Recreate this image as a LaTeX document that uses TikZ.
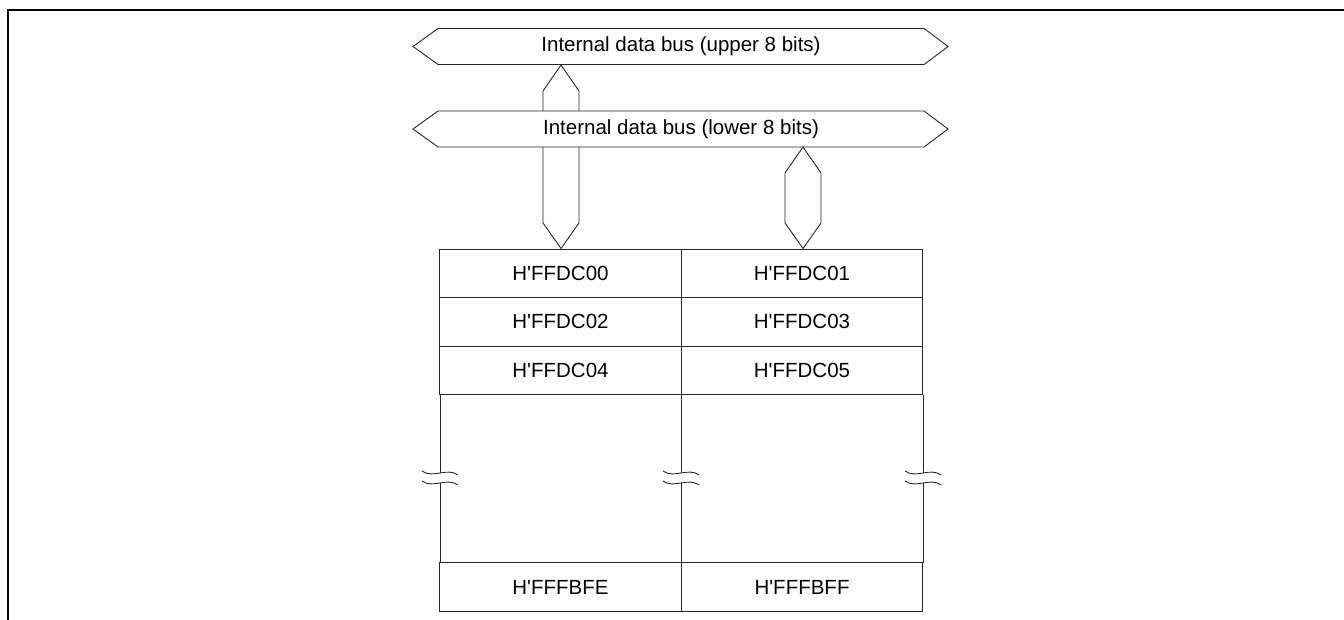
\documentclass[tikz,border=0pt]{standalone}
\usepackage{fontspec}
\setmainfont{Liberation Sans}[Ligatures=TeXOff]
\begin{document}
\begin{tikzpicture}[x=1pt,y=-1pt,line join=miter,
  busline/.style={draw=black!85,line width=0.9pt,fill=white},
  lbl/.style={font=\fontsize{20.5}{24}\selectfont,inner sep=0pt,text=black},
  cell/.style={draw=black!85,line width=0.9pt,minimum width=241.5pt,minimum height=48.5pt,inner sep=0pt,font=\fontsize{20.5}{24}\selectfont},
  gridline/.style={draw=black!85,line width=0.9pt},
  wave/.style={draw=black!85,line width=0.9pt}]
\useasboundingbox (0,0) rectangle (1344,620);
% frame
\draw[line width=1.5pt] (8,620) -- (8,10) -- (1344,10);
% vertical bus between upper and lower bus, down to table
\draw[busline] (561,65) -- (579,91) -- (579,223) -- (561,248.5) -- (543,223) -- (543,91) -- cycle;
% upper bus
\draw[busline] (413,46.5) -- (438,28.5) -- (924,28.5) -- (948,46.5) -- (924,64.5) -- (438,64.5) -- cycle;
\node[lbl] (ub) at (681,46.5) {Internal data bus (upper 8 bits)};
% lower bus
\draw[busline] (413,129) -- (438,111) -- (924,111) -- (948,129) -- (924,147) -- (438,147) -- cycle;
\node[lbl] (lb) at (681,129) {Internal data bus (lower 8 bits)};
% right vertical bus
\draw[busline] (803,147) -- (821,173) -- (821,223) -- (803,248.5) -- (785,223) -- (785,173) -- cycle;
% table cells
\node[cell] (c00) at (560.5,273.25) {H'FFDC00};
\node[cell] (c01) at (802,273.25) {H'FFDC01};
\node[cell] (c02) at (560.5,321.75) {H'FFDC02};
\node[cell] (c03) at (802,321.75) {H'FFDC03};
\node[cell] (c04) at (560.5,370.25) {H'FFDC04};
\node[cell] (c05) at (802,370.25) {H'FFDC05};
\node[cell] (cfe) at (560.5,587) {H'FFFBFE};
\node[cell] (cff) at (802,587) {H'FFFBFF};
% middle region with break marks
\foreach \x/\n in {440/a,681/b,923/c}{
  \coordinate (t\n) at (\x,394.5);
  \coordinate (u\n) at (\x,473);
  \coordinate (l\n) at (\x,483);
  \coordinate (b\n) at (\x,563);
  \draw[gridline] (t\n) -- (u\n);
  \draw[gridline] (l\n) -- (b\n);
  \draw[wave] ([xshift=-18pt,yshift=2pt]u\n) .. controls ([xshift=-7pt,yshift=-6pt]u\n) and ([xshift=7pt,yshift=6pt]u\n) .. ([xshift=18pt,yshift=-2pt]u\n);
  \draw[wave] ([xshift=-18pt,yshift=2pt]l\n) .. controls ([xshift=-7pt,yshift=-6pt]l\n) and ([xshift=7pt,yshift=6pt]l\n) .. ([xshift=18pt,yshift=-2pt]l\n);
}
\end{tikzpicture}
\end{document}
